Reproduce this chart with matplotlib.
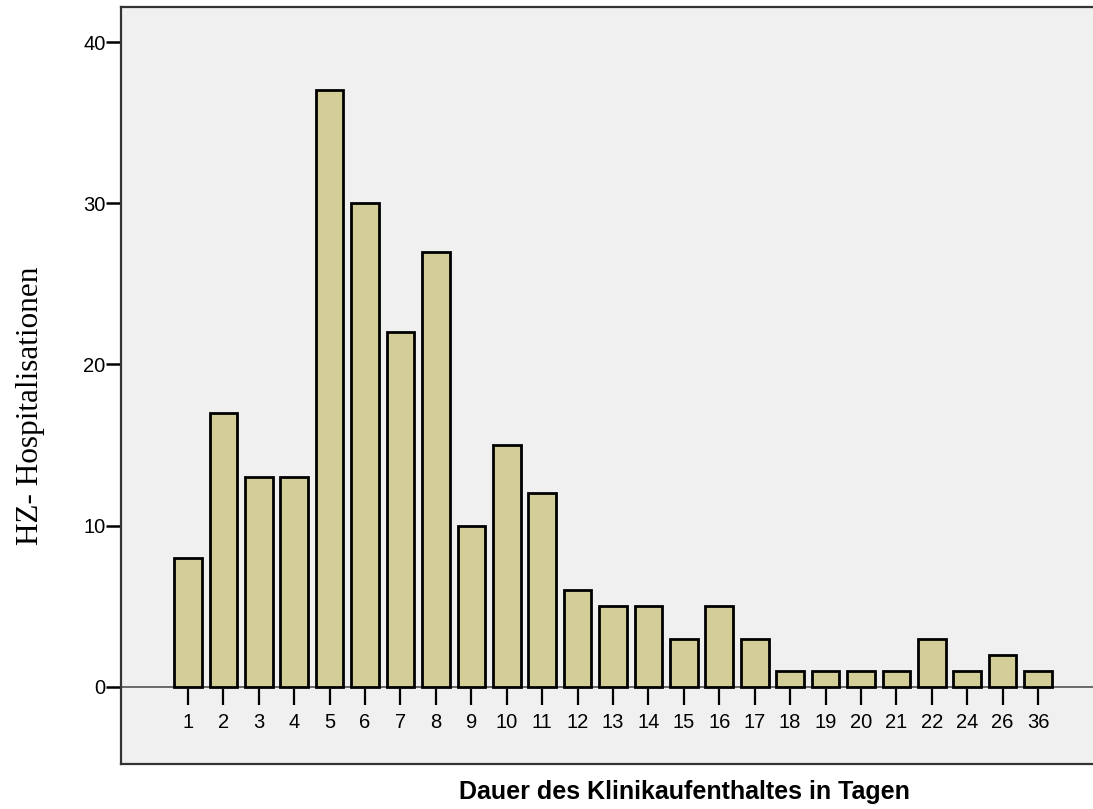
import matplotlib.pyplot as plt
import numpy as np

# Dauer (Tage) and number of HZ hospitalisations
tage = ["1", "2", "3", "4", "5", "6", "7", "8", "9", "10", "11", "12", "13",
        "14", "15", "16", "17", "18", "19", "20", "21", "22", "24", "26", "36"]
anzahl = [8, 17, 13, 13, 37, 30, 22, 27, 10, 15, 12, 6, 5,
          5, 3, 5, 3, 1, 1, 1, 1, 3, 1, 2, 1]
y_ticks = [0, 10, 20, 30, 40]


def main():
    fig = plt.figure(figsize=(10.93, 8.09), dpi=100)
    ax = fig.add_axes([0.1107, 0.0556, 0.8893, 0.9357])
    ax.set_facecolor("#F0F0F0")

    x = np.arange(len(tage))
    ax.bar(x, anzahl, width=0.78, color="#D3CE98", edgecolor="black",
           linewidth=2.0, zorder=3)

    # zero line and category ticks drawn inside the plot area
    ax.axhline(0, color="#444444", linewidth=1.1, zorder=2)
    ax.vlines(x, -0.12, -1.1, color="black", linewidth=1.6, zorder=2)
    for xi, lab in zip(x, tage):
        ax.text(xi, -2.2, lab, ha="center", va="center", fontsize=14.5,
                family="Liberation Sans")

    ax.set_xlim(-1.89, 25.55)
    ax.set_ylim(-4.78, 42.17)
    ax.set_xticks([])
    ax.set_yticks(y_ticks)
    ax.set_yticklabels([str(t) for t in y_ticks], family="Liberation Sans",
                       fontsize=14.5)
    ax.tick_params(axis="y", length=11, width=1.8, pad=0)

    for side in ["left", "top", "bottom"]:
        ax.spines[side].set_color("#333333")
        ax.spines[side].set_linewidth(1.6)
    ax.spines["right"].set_visible(False)

    fig.text(0.028, 0.499, "HZ- Hospitalisationen", rotation=90,
             ha="center", va="center", fontsize=22.5, family="Liberation Serif")
    fig.text(0.626, 0.021, "Dauer des Klinikaufenthaltes in Tagen",
             ha="center", va="center", fontsize=18, fontweight="bold",
             family="Liberation Sans")

    fig.savefig("out.png", dpi=100)


if __name__ == "__main__":
    main()
